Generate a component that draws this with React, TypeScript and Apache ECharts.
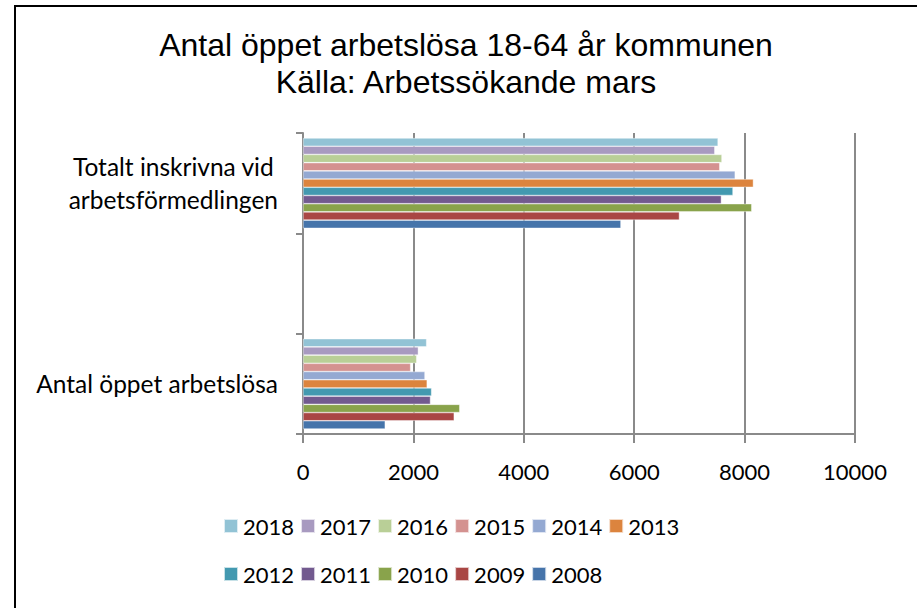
import React, { useEffect, useRef } from "react";
import * as echarts from "echarts";

const years = ["2018", "2017", "2016", "2015", "2014", "2013", "2012", "2011", "2010", "2009", "2008"];
const colors = ["#92C3D5", "#A89AC0", "#B9CF97", "#D49290", "#94A9D2", "#DC843E", "#4399B0", "#725A8F", "#89A34B", "#A94644", "#4674AA"];
const categories = ["Antal öppet arbetslösa", "", "Totalt inskrivna vid\narbetsförmedlingen"];
const oppetArbetslosa = [2240, 2090, 2060, 1950, 2210, 2250, 2330, 2310, 2840, 2740, 1490];
const totaltInskrivna = [7520, 7460, 7590, 7550, 7830, 8160, 7790, 7580, 8130, 6820, 5760];
const xTicks = [0, 2000, 4000, 6000, 8000, 10000];

export default function App() {
  const ref = useRef<HTMLDivElement>(null);
  useEffect(() => {
    if (!ref.current) return;
    const chart = echarts.init(ref.current, undefined, { renderer: "svg" });
    const font = "Lato";
    const legendText = { fontFamily: font, fontSize: 22, color: "#000" };
    chart.setOption({
      animation: false,
      backgroundColor: "#fff",
      title: {
        text: "Antal öppet arbetslösa 18-64 år kommunen\nKälla: Arbetssökande mars",
        left: 466,
        top: 26,
        textAlign: "center",
        padding: 0,
        textStyle: { fontFamily: "Liberation Sans", fontSize: 32, fontWeight: "normal", color: "#000", lineHeight: 37 },
      },
      graphic: [
        { type: "rect", shape: { x: 15, y: 6, width: 920, height: 620 }, style: { fill: "none", stroke: "#000", lineWidth: 2 }, silent: true },
      ],
      legend: [
        {
          data: years.slice(0, 6),
          left: 223,
          top: 515,
          padding: 0,
          itemWidth: 14,
          itemHeight: 14,
          itemGap: 6,
          icon: "rect",
          textStyle: legendText,
        },
        {
          data: years.slice(6),
          left: 223,
          top: 563,
          padding: 0,
          itemWidth: 14,
          itemHeight: 14,
          itemGap: 6,
          icon: "rect",
          textStyle: legendText,
        },
      ],
      grid: { left: 303, top: 133, width: 552, height: 301, containLabel: false },
      xAxis: {
        type: "value",
        min: xTicks[0],
        max: xTicks[xTicks.length - 1],
        interval: 2000,
        axisLine: { show: true, lineStyle: { color: "#8a8a8a", width: 2 } },
        axisTick: { show: true, length: 9, lineStyle: { color: "#8a8a8a", width: 2 } },
        splitLine: { show: true, lineStyle: { color: "#8a8a8a", width: 2 } },
        axisLabel: { fontFamily: font, fontSize: 22, color: "#000", margin: 26, formatter: (v: number) => String(v) },
      },
      yAxis: {
        type: "category",
        data: categories,
        axisLine: { show: true, lineStyle: { color: "#8a8a8a", width: 2 } },
        axisTick: { show: true, length: 7, inside: false, alignWithLabel: false, lineStyle: { color: "#8a8a8a", width: 2 } },
        splitLine: { show: false },
        axisLabel: {
          margin: 25,
          interval: 0,
          formatter: (v: string) => v.split("\n").map((l) => "{c|" + l + "}").join("\n"),
          rich: { c: { align: "center", fontFamily: font, fontSize: 24.5, color: "#000", lineHeight: 33 } },
        },
      },
      series: years.map((y, i) => ({
        name: y,
        type: "bar",
        barGap: "0%",
        barCategoryGap: "10%",
        itemStyle: { color: colors[i], borderColor: "rgba(255,255,255,0.7)", borderWidth: 0.6 },
        data: [oppetArbetslosa[i], null, totaltInskrivna[i]],
      })),
    });
    return () => chart.dispose();
  }, []);
  return <div ref={ref} style={{ position: "fixed", left: 0, top: 0, width: 917, height: 608 }} />;
}
